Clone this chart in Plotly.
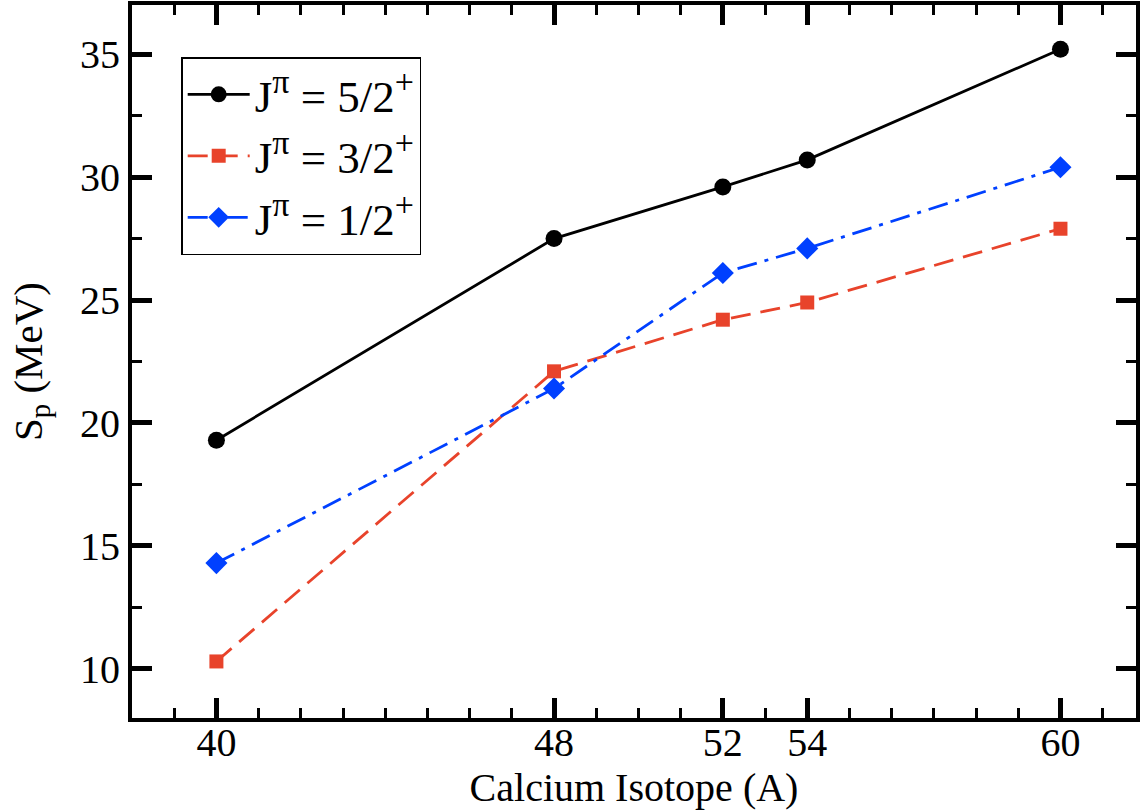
import plotly.graph_objects as go

isotopes = [40, 48, 52, 54, 60]
sp_52 = [19.3, 27.5, 29.6, 30.7, 35.2]
sp_32 = [10.3, 22.1, 24.2, 24.9, 27.9]
sp_12 = [14.3, 21.4, 26.1, 27.1, 30.4]
SUP = "<span style='font-size:34px'>"
names = [f"J<sup>{SUP}π</span></sup> = 5/2<sup>{SUP}+</span></sup>",
         f"J<sup>{SUP}π</span></sup> = 3/2<sup>{SUP}+</span></sup>",
         f"J<sup>{SUP}π</span></sup> = 1/2<sup>{SUP}+</span></sup>"]
xticks = [40, 48, 52, 54, 60]
yticks = [10, 15, 20, 25, 30, 35]

FONT = "Liberation Serif, Times New Roman, serif"

fig = go.Figure()
fig.add_trace(go.Scatter(x=isotopes, y=sp_52, name=names[0], mode="lines+markers",
                         line=dict(color="black", width=2.8),
                         marker=dict(symbol="circle", size=17, color="black")))
fig.add_trace(go.Scatter(x=isotopes, y=sp_32, name=names[1], mode="lines+markers",
                         line=dict(color="#E8432B", width=2.8, dash="20px,10px"),
                         marker=dict(symbol="square", size=14, color="#E8432B")))
fig.add_trace(go.Scatter(x=isotopes, y=sp_12, name=names[2], mode="lines+markers",
                         line=dict(color="#0040FF", width=2.8, dash="20px,8px,4px,8px"),
                         marker=dict(symbol="diamond", size=17, color="#0040FF")))

axis_common = dict(showline=True, linecolor="black", linewidth=4, mirror="ticks",
                   ticks="inside", tickcolor="black", showgrid=False, zeroline=False,
                   tickfont=dict(family=FONT, size=40, color="black"))

fig.update_xaxes(range=[38, 61.79], tickvals=xticks, ticklen=20, tickwidth=5,
                 ticklabelstandoff=-14,
                 minor=dict(dtick=1, ticks="inside", ticklen=10, tickwidth=3, tickcolor="black", showgrid=False),
                 title=dict(text="Calcium Isotope (A)", font=dict(family=FONT, size=40, color="black"), standoff=0),
                 **axis_common)
fig.update_yaxes(range=[8, 37], tickvals=yticks, ticklen=20, tickwidth=5,
                 minor=dict(dtick=2.5, ticks="inside", ticklen=10, tickwidth=3, tickcolor="black", showgrid=False),
                 title=dict(text="S<sub>p</sub> (MeV)", font=dict(family=FONT, size=41, color="black"), standoff=26),
                 **axis_common)

fig.update_layout(
    width=1140, height=810,
    margin=dict(l=132, r=0, t=5, b=92),
    paper_bgcolor="white", plot_bgcolor="white",
    legend=dict(x=0.049, y=0.927, xanchor="left", yanchor="top",
                bgcolor="white", bordercolor="black", borderwidth=1.5,
                font=dict(family=FONT, size=45, color="black"),
                itemwidth=62, tracegroupgap=0),
    showlegend=True,
)

fig.write_html("out.html")
